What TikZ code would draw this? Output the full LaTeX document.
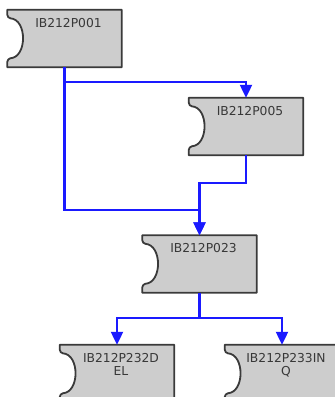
\documentclass[tikz,border=0pt]{standalone}
\usepackage{fontspec}
\setmainfont{DejaVu Sans}
\usetikzlibrary{arrows.meta,backgrounds}

\definecolor{storefill}{HTML}{CDCDCD}
\definecolor{storeedge}{HTML}{3A3A3A}
\definecolor{storetextcol}{HTML}{383838}
\definecolor{flowblue}{HTML}{1A1AFF}

\tikzset{
	store/.style={minimum width=114pt, minimum height=57pt, inner sep=0pt},
	storetext/.style={anchor=north, yshift=-8pt, xshift=4pt, inner sep=0pt,
		align=center, text=storetextcol, font=\fontsize{12.3}{13}\selectfont},
	storeline/.style={draw=storeedge, fill=storefill, line width=1.8pt, line join=round},
	flow/.style={draw=flowblue, line width=2.2pt, -{Triangle[width=12pt,length=13pt]}}
}

\begin{document}
\begin{tikzpicture}[x=1pt,y=-1pt]
			
			\useasboundingbox (0,0) rectangle (335,397);
			
			\node[store, label={[storetext]north:IB212P001}] (p001) at (64.5,38.5) {};
			\node[store, label={[storetext]north:IB212P005}] (p005) at (246,126.5) {};
			\node[store, label={[storetext]north:IB212P023}] (p023) at (199.5,264) {};
			\node[store, label={[storetext]north:IB212P232D\\EL}] (p232) at (117,373.5) {};
			\node[store, label={[storetext]north:IB212P233IN\\Q}] (p233) at (282,373.5) {};
			
			\begin{scope}[on background layer]
				\foreach \n in {p001,p005,p023,p232,p233}
				{
					\draw[storeline] (\n.north west) -- ++(0,5)
						.. controls +(0,2) and +(-1.5,-0.5) .. ++(3,3.5)
						.. controls +(17,1) and +(17,-1) .. ++(0,40)
						.. controls +(-1.5,0.5) and +(0,-2) .. ++(-3,3.5)
						-- (\n.south west) -- (\n.south east) -- (\n.north east) -- cycle;
				}
			\end{scope}
			
			\draw[flow] (p001.south) -- ++(0,15) -| (p005.north);
			\draw[flow] (p001.south) -- ++(0,143) -| (p023.north);
			\draw[flow] (p005.south) -- ++(0,28) -| (p023.north);
			\draw[flow] (p023.south) -- ++(0,25) -| (p232.north);
			\draw[flow] (p023.south) -- ++(0,25) -| (p233.north);
			
		\end{tikzpicture}
\end{document}
